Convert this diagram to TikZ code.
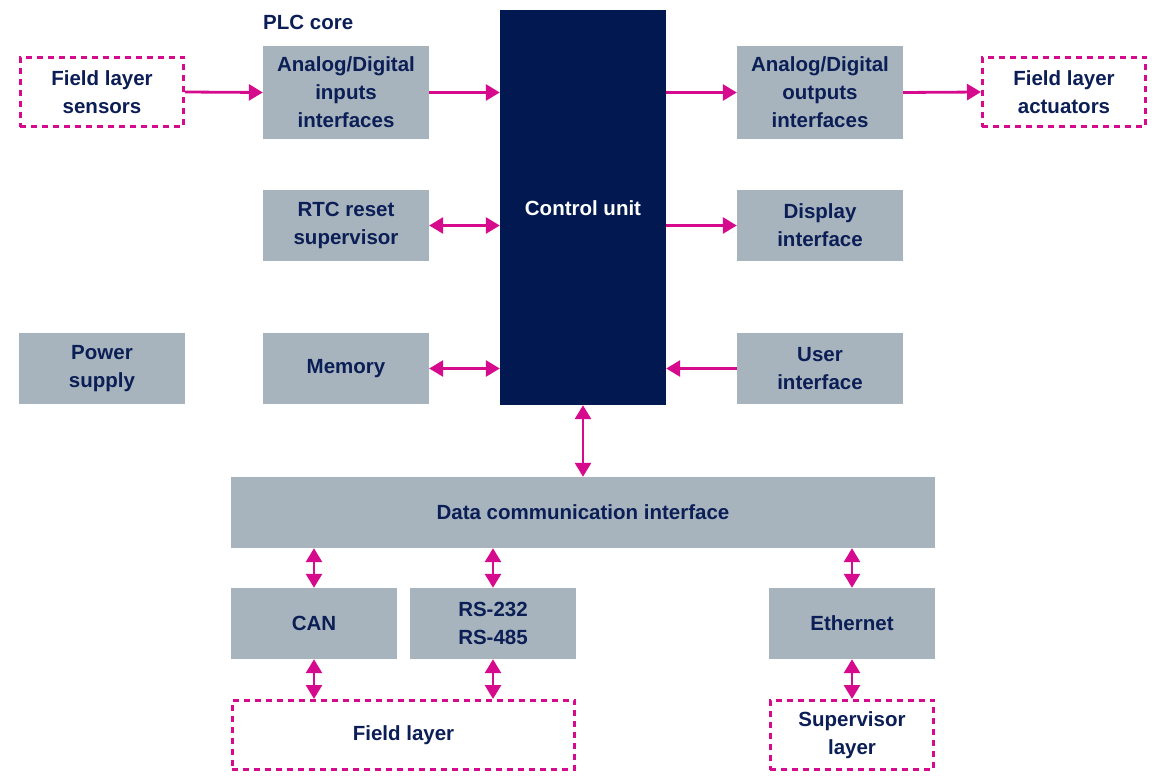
\documentclass[tikz,border=0pt]{standalone}
\usepackage{fontspec}
\setmainfont{Liberation Sans}
\usetikzlibrary{arrows.meta}
\definecolor{navy}{RGB}{11,30,86}
\definecolor{cunit}{RGB}{1,25,80}
\definecolor{boxgray}{RGB}{167,180,189}
\definecolor{mag}{RGB}{214,10,140}
\newcommand\diaglbl{\fontsize{20.5}{28}\selectfont\bfseries}
\begin{document}
\begin{tikzpicture}[x=1pt,y=-1pt,
  box/.style={fill=boxgray, draw=none, inner sep=0pt, minimum width=166pt, minimum height=71pt, align=center, font=\diaglbl, text=navy},
  dbox/.style={draw=mag, fill=white, line width=2.6pt, dash pattern=on 6pt off 5pt, inner sep=0pt, minimum width=163.4pt, minimum height=69.4pt, align=center, font=\diaglbl, text=navy},
  tip/.tip={Triangle[length=14pt,width=16pt]},
  conn/.style={draw=mag, line width=2.8pt, -tip},
  biconn/.style={draw=mag, line width=2.8pt, tip-tip}
]
\useasboundingbox (0,0) rectangle (1160,783);
% boxes
\node[dbox] (sens) at (102,92) {Field layer\\sensors};
\node[font=\diaglbl, text=navy, anchor=west, inner sep=0pt] (plc) at (263,22) {PLC core};
\node[box, minimum height=93pt] (inp) at (346,92.5) {Analog/Digital\\inputs\\interfaces};
\node[fill=cunit, inner sep=0pt, minimum width=166pt, minimum height=395pt] (cu) at (583,207.5) {};
\node[font=\diaglbl, text=white, inner sep=0pt] (cut) at (583,208) {Control unit};
\node[box, minimum height=93pt] (outp) at (820,92.5) {Analog/Digital\\outputs\\interfaces};
\node[dbox] (act) at (1064,92) {Field layer\\actuators};
\node[box] (rtc) at (346,225.5) {RTC reset\\supervisor};
\node[box] (disp) at (820,225.5) {Display\\interface};
\node[box] (pow) at (102,368.5) {Power\\supply};
\node[box] (mem) at (346,368.5) {Memory};
\node[box] (user) at (820,368.5) {User\\interface};
\node[box, minimum width=704pt] (dci) at (583,512.5) {Data communication interface};
\node[box] (can) at (314,623.5) {CAN};
\node[box] (rs) at (493,623.5) {RS-232\\RS-485};
\node[box] (eth) at (852,623.5) {Ethernet};
\node[dbox, minimum width=342.4pt] (fl) at (403.5,735) {Field layer};
\node[dbox] (sup) at (852,735) {Supervisor\\layer};
% connectors
\draw[conn] (sens.east) -- (inp.west);
\draw[conn] (inp.east) -- (inp.east -| cu.west);
\draw[conn] (outp.west -| cu.east) -- (outp.west);
\draw[conn] (outp.east) -- (act.west);
\draw[biconn] (rtc.east) -- (rtc.east -| cu.west);
\draw[conn] (disp.west -| cu.east) -- (disp.west);
\draw[biconn] (mem.east) -- (mem.east -| cu.west);
\draw[conn] (user.west) -- (user.west -| cu.east);
\draw[biconn] (cu.south) -- (dci.north);
\draw[biconn] (can.north |- dci.south) -- (can.north);
\draw[biconn] (rs.north |- dci.south) -- (rs.north);
\draw[biconn] (eth.north |- dci.south) -- (eth.north);
\draw[biconn] (can.south) -- (can.south |- fl.north);
\draw[biconn] (rs.south) -- (rs.south |- fl.north);
\draw[biconn] (eth.south) -- (sup.north);
\end{tikzpicture}
\end{document}
